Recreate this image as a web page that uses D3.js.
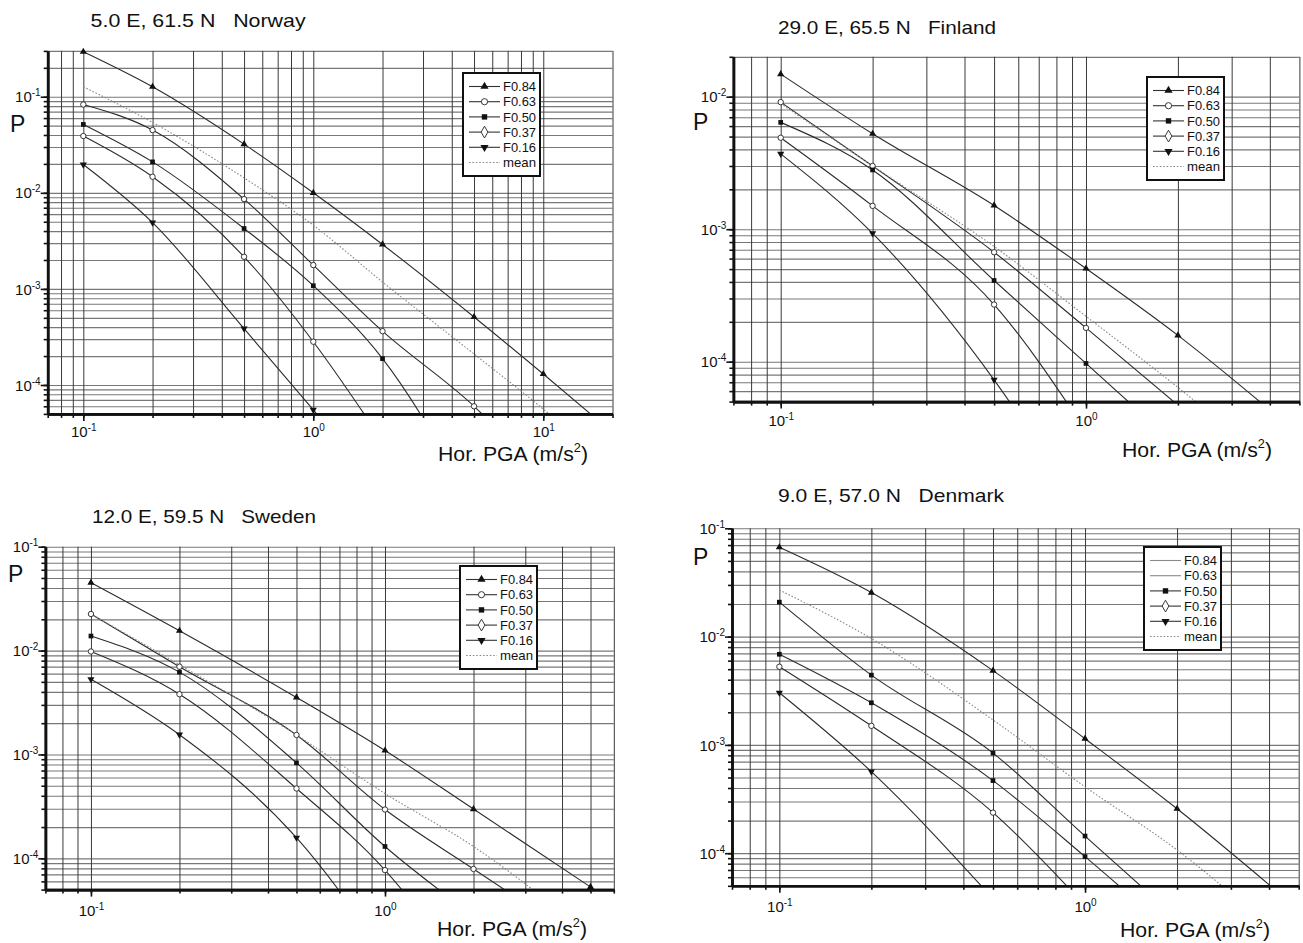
<!DOCTYPE html>
<html><head><meta charset="utf-8">
<script src="https://cdn.jsdelivr.net/npm/d3@7"></script>
<style>
body{margin:0;background:#fff;}
svg{display:block;font-family:"Liberation Sans",Arial,Helvetica,sans-serif;}
</style></head><body>
<svg id="chart" width="1303" height="943"></svg>
<script>
// ---------------- data ----------------
const pgaValues = [0.1, 0.2, 0.5, 1, 2, 5, 10, 20];
const seriesNames = ["F0.84", "F0.63", "F0.50", "F0.37", "F0.16", "mean"];
const xAxisTitle = "Hor. PGA (m/s";
const yAxisTitle = "P";

// Norway
const norwayTitle = "5.0 E, 61.5 N   Norway";
const norwayXDomain = [0.07, 20];
const norwayYDomain = [5e-5, 0.3];
const norwayXTicks = [0.1, 1, 10];
const norwayYTicks = [1e-1, 1e-2, 1e-3, 1e-4];
const norwayF084 = [0.294, 0.127, 0.0321, 0.0100, 0.0029, 5.1e-4, 1.3e-4, 3.2e-5];
const norwayF063 = [0.083, 0.045, 0.0086, 0.00177, 3.63e-4, 6.0e-5, 1.1e-5];
const norwayF050 = [0.0515, 0.021, 0.00425, 0.00108, 1.88e-4, 5.5e-6];
const norwayF037 = [0.039, 0.0147, 0.00216, 2.82e-4, 2.6e-5];
const norwayF016 = [0.0197, 0.0049, 3.86e-4, 5.5e-5, 8e-6];
const norwayMean = [0.127, 0.054, 0.0143, 0.0046, 0.00118, 2.1e-4, 5.6e-5, 1.3e-5];

// Finland
const finlandTitle = "29.0 E, 65.5 N   Finland";
const finlandXDomain = [0.07, 5];
const finlandYDomain = [5e-5, 0.02];
const finlandXTicks = [0.1, 1];
const finlandYTicks = [1e-2, 1e-3, 1e-4];
const finlandF084 = [0.0148, 0.00525, 0.00151, 5.05e-4, 1.58e-4, 2.8e-5];
const finlandF063 = [0.0091, 0.0030, 6.7e-4, 1.8e-4, 4.7e-5];
const finlandF050 = [0.0064, 0.0028, 4.1e-4, 9.7e-5, 2.3e-5];
const finlandF037 = [0.0049, 0.0015, 2.7e-4, 3e-5];
const finlandF016 = [0.0037, 9.3e-4, 7.3e-5, 6.5e-6];
const finlandMean = [0.0089, 0.0030, 7.4e-4, 2.2e-4, 6.4e-5, 1.1e-5];

// Sweden
const swedenTitle = "12.0 E, 59.5 N   Sweden";
const swedenXDomain = [0.07, 6];
const swedenYDomain = [5e-5, 0.1];
const swedenXTicks = [0.1, 1];
const swedenYTicks = [1e-1, 1e-2, 1e-3, 1e-4];
const swedenF084 = [0.045, 0.0155, 0.00354, 0.00109, 2.98e-4, 5.3e-5];
const swedenF063 = [0.0225, 0.0070, 0.00154, 2.95e-4, 7.9e-5, 1.4e-5];
const swedenF050 = [0.0138, 0.0062, 8.3e-4, 1.3e-4, 2.8e-5];
const swedenF037 = [0.0098, 0.0038, 4.7e-4, 7.7e-5, 6e-6];
const swedenF016 = [0.0053, 0.00155, 1.58e-4, 1.2e-5];
const swedenMean = [0.0225, 0.0073, 0.00154, 4.2e-4, 1.3e-4, 1.8e-5];

// Denmark
const denmarkTitle = "9.0 E, 57.0 N   Denmark";
const denmarkXDomain = [0.07, 5];
const denmarkYDomain = [5e-5, 0.1];
const denmarkXTicks = [0.1, 1];
const denmarkYTicks = [1e-1, 1e-2, 1e-3, 1e-4];
const denmarkF084 = [0.0668, 0.0255, 0.00485, 0.00114, 2.57e-4, 3e-5];
const denmarkF063 = [0.0208, 0.00441, 8.4e-4, 1.44e-4, 2.5e-5];
const denmarkF050 = [0.00687, 0.00245, 4.68e-4, 9.3e-5, 1.7e-5];
const denmarkF037 = [0.00527, 0.0015, 2.37e-4, 3.3e-5];
const denmarkF016 = [0.00303, 5.66e-4, 3.8e-5];
const denmarkMean = [0.0269, 0.0096, 0.0017, 4.1e-4, 1.07e-4, 1.2e-5];

// ---------------- styles / layout ----------------
const plotMarkers = {
  default: ["triUp", "circle", "square", "circle", "triDown", "none"],
  denmark: ["triUp", "square", "square", "circle", "triDown", "none"]
};
const legendMarkers = {
  default: ["triUp", "circle", "square", "diamond", "triDown", "none"],
  denmark: ["none", "none", "square", "diamond", "triDown", "none"]
};
const legendLineColors = {
  default: ["#333", "#333", "#333", "#333", "#333", "#8a8a8a"],
  denmark: ["#8a8a8a", "#8a8a8a", "#333", "#333", "#333", "#8a8a8a"]
};

const layouts = {
  norway:  {x0: 47.7,  x1: 612.5,  y0: 413.9, y1: 50.9,  tx: 90.6, ty: 26.7,  tw: 215, px: 10,  py: 132, lx: 438,  ly: 461, tickDy: 23, legX: 463,  legY: 73},
  finland: {x0: 733.4, x1: 1299.4, y0: 401.6, y1: 56.8,  tx: 778,  ty: 34.3,  tw: 218, px: 693, py: 130, lx: 1122, ly: 457, tickDy: 24, legX: 1147, legY: 77},
  sweden:  {x0: 45.4,  x1: 613.8,  y0: 889.6, y1: 546.7, tx: 92,   ty: 522.7, tw: 224, px: 8,   py: 582, lx: 437,  ly: 936, tickDy: 26, legX: 460,  legY: 566},
  denmark: {x0: 732,   x1: 1298.7, y0: 885.8, y1: 528.3, tx: 778,  ty: 501.7, tw: 226, px: 693, py: 565, lx: 1120, ly: 937, tickDy: 26, legX: 1144, legY: 547}
};

const panels = [
  {key: "norway", title: norwayTitle, xDomain: norwayXDomain, yDomain: norwayYDomain, xTicks: norwayXTicks, yTicks: norwayYTicks,
   series: [norwayF084, norwayF063, norwayF050, norwayF037, norwayF016, norwayMean]},
  {key: "finland", title: finlandTitle, xDomain: finlandXDomain, yDomain: finlandYDomain, xTicks: finlandXTicks, yTicks: finlandYTicks,
   series: [finlandF084, finlandF063, finlandF050, finlandF037, finlandF016, finlandMean]},
  {key: "sweden", title: swedenTitle, xDomain: swedenXDomain, yDomain: swedenYDomain, xTicks: swedenXTicks, yTicks: swedenYTicks,
   series: [swedenF084, swedenF063, swedenF050, swedenF037, swedenF016, swedenMean]},
  {key: "denmark", title: denmarkTitle, xDomain: denmarkXDomain, yDomain: denmarkYDomain, xTicks: denmarkXTicks, yTicks: denmarkYTicks,
   series: [denmarkF084, denmarkF063, denmarkF050, denmarkF037, denmarkF016, denmarkMean]}
];

// ---------------- drawing ----------------
const svg = d3.select("#chart");
svg.append("rect").attr("width", 1303).attr("height", 943).attr("fill", "#fff");

function logTicks(domain) {
  const out = [];
  const [a, b] = domain;
  for (let k = Math.floor(Math.log10(a)) - 1; k <= Math.ceil(Math.log10(b)); k++) {
    for (let m = 1; m <= 9; m++) {
      const v = +(m * Math.pow(10, k)).toPrecision(6);
      if (v >= a * 0.999 && v <= b * 1.001) out.push(v);
    }
  }
  return out;
}

function drawMarker(g, type, cx, cy, scale) {
  const s = scale || 1;
  if (type === "none") return;
  if (type === "circle") {
    g.append("circle").attr("cx", cx).attr("cy", cy).attr("r", 2.7 * s)
      .attr("fill", "#fff").attr("stroke", "#222").attr("stroke-width", 0.9);
    return;
  }
  let sym, size, fill = "#111", stroke = "none", rot = 0;
  if (type === "triUp") { sym = d3.symbolTriangle; size = 22; }
  else if (type === "triDown") { sym = d3.symbolTriangle; size = 22; rot = 180; }
  else if (type === "square") { sym = d3.symbolSquare; size = 22; }
  else if (type === "diamond") { sym = d3.symbolDiamond; size = 30; fill = "#fff"; stroke = "#222"; }
  g.append("path").attr("d", d3.symbol().type(sym).size(size * s * s)())
    .attr("transform", `translate(${cx},${cy}) rotate(${rot})`)
    .attr("fill", fill).attr("stroke", stroke).attr("stroke-width", 0.9);
}

function expLabel(textSel, d, big, small) {
  textSel.text(null);
  textSel.append("tspan").attr("font-size", big).text("10");
  textSel.append("tspan").attr("font-size", small).attr("dy", -6).text(String(Math.round(Math.log10(d))));
}

panels.forEach((p, pi) => {
  const L = layouts[p.key];
  const g = svg.append("g");
  const x = d3.scaleLog().domain(p.xDomain).range([L.x0, L.x1]);
  const y = d3.scaleLog().domain(p.yDomain).range([L.y0, L.y1]);
  const xAll = logTicks(p.xDomain), yAll = logTicks(p.yDomain);
  const w = L.x1 - L.x0, h = L.y0 - L.y1;

  // horizontal grid
  g.append("g").attr("transform", `translate(${L.x0},0)`)
    .call(d3.axisLeft(y).tickValues(yAll).tickSize(-w).tickSizeOuter(0).tickFormat(""))
    .call(s => { s.select(".domain").remove(); s.selectAll("line").attr("stroke", "#787878").attr("stroke-width", 1.15); });
  // vertical grid
  g.append("g").attr("transform", `translate(0,${L.y0})`)
    .call(d3.axisBottom(x).tickValues(xAll).tickSize(-h).tickSizeOuter(0).tickFormat(""))
    .call(s => { s.select(".domain").remove(); s.selectAll("line").attr("stroke", "#3a3a3a").attr("stroke-width", 1); });

  // clip
  const clipId = "clip" + pi;
  svg.append("clipPath").attr("id", clipId).append("rect")
    .attr("x", L.x0).attr("y", L.y1).attr("width", w).attr("height", h);

  const line = d3.line().x(d => x(d[0])).y(d => y(d[1])).curve(d3.curveMonotoneX);
  const curves = g.append("g").attr("clip-path", `url(#${clipId})`);
  p.series.forEach((vals, si) => {
    const pts = vals.map((v, i) => [pgaValues[i], v]);
    const isMean = seriesNames[si] === "mean";
    curves.append("path").attr("d", line(pts)).attr("fill", "none")
      .attr("stroke", isMean ? "#8a8a8a" : "#2c2c2c")
      .attr("stroke-width", 1.1)
      .attr("stroke-dasharray", isMean ? "1.6,1.8" : null);
  });

  // markers
  const mk = plotMarkers[p.key] || plotMarkers.default;
  const mg = g.append("g");
  p.series.forEach((vals, si) => {
    vals.forEach((v, i) => {
      const xv = pgaValues[i];
      if (v < p.yDomain[0] * 0.98 || v > p.yDomain[1] || xv > p.xDomain[1]) return;
      drawMarker(mg, mk[si], x(xv), y(v));
    });
  });

  // axes: minor ticks
  const axStyle = s => {
    s.attr("font-size", null).attr("font-family", null);
    s.select(".domain").attr("stroke", "#111").attr("stroke-width", 2.6);
    s.selectAll(".tick line").attr("stroke", "#111").attr("stroke-width", 1.6);
  };
  g.append("g").attr("transform", `translate(0,${L.y0})`)
    .call(d3.axisBottom(x).tickValues(xAll).tickSize(4).tickSizeOuter(0).tickFormat(""))
    .call(axStyle);
  g.append("g").attr("transform", `translate(${L.x0},0)`)
    .call(d3.axisLeft(y).tickValues(yAll).tickSize(4).tickSizeOuter(0).tickFormat(""))
    .call(axStyle);
  // major ticks with labels
  g.append("g").attr("transform", `translate(0,${L.y0})`)
    .call(d3.axisBottom(x).tickValues(p.xTicks).tickSize(7).tickSizeOuter(0).tickFormat(() => ""))
    .call(axStyle)
    .call(s => s.selectAll(".tick text").each(function (d) {
      const t = d3.select(this).attr("y", L.tickDy).attr("dy", null).attr("fill", "#111")
        .attr("text-anchor", "middle");
      expLabel(t, d, 15, 10);
    }));
  g.append("g").attr("transform", `translate(${L.x0},0)`)
    .call(d3.axisLeft(y).tickValues(p.yTicks).tickSize(7).tickSizeOuter(0).tickFormat(() => ""))
    .call(axStyle)
    .call(s => s.selectAll(".tick text").each(function (d) {
      const t = d3.select(this).attr("x", -7).attr("dy", "0.32em").attr("fill", "#111")
        .attr("text-anchor", "end");
      expLabel(t, d, 15, 10);
    }));

  // titles
  g.append("text").attr("x", L.tx).attr("y", L.ty).attr("font-size", 19).attr("fill", "#111")
    .attr("xml:space", "preserve").style("white-space", "pre")
    .attr("textLength", L.tw).attr("lengthAdjust", "spacingAndGlyphs")
    .text(p.title);
  g.append("text").attr("x", L.px).attr("y", L.py).attr("font-size", 23).attr("fill", "#111").text(yAxisTitle);
  const xl = g.append("text").attr("x", L.lx).attr("y", L.ly).attr("font-size", 20).attr("fill", "#111")
    .attr("textLength", 150).attr("lengthAdjust", "spacingAndGlyphs");
  xl.append("tspan").text(xAxisTitle);
  xl.append("tspan").attr("font-size", 12).attr("dy", -9).text("2");
  xl.append("tspan").attr("dy", 9).text(")");

  // legend
  const lg = g.append("g").attr("transform", `translate(${L.legX},${L.legY})`);
  lg.append("rect").attr("width", 77).attr("height", 103).attr("fill", "#fff")
    .attr("stroke", "#111").attr("stroke-width", 2);
  const lm = legendMarkers[p.key] || legendMarkers.default;
  const lc = legendLineColors[p.key] || legendLineColors.default;
  seriesNames.forEach((name, si) => {
    const ry = 13.5 + si * 15.2;
    const isMean = name === "mean";
    lg.append("line").attr("x1", 6).attr("x2", 37).attr("y1", ry).attr("y2", ry)
      .attr("stroke", lc[si]).attr("stroke-width", 1.1)
      .attr("stroke-dasharray", isMean ? "1.6,1.8" : null);
    drawMarker(lg, lm[si], 21.5, ry, 1.15);
    lg.append("text").attr("x", 40).attr("y", ry + 4.6).attr("font-size", 13).attr("fill", "#111")
      .attr("textLength", 33).attr("lengthAdjust", "spacingAndGlyphs").text(name);
  });
});
</script>
</body></html>
